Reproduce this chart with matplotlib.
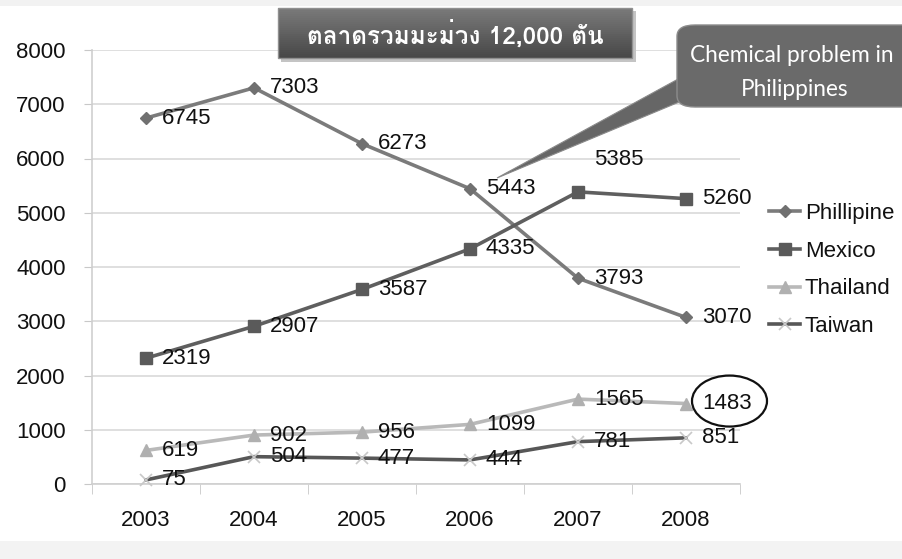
import matplotlib
matplotlib.use("Agg")
import matplotlib.pyplot as plt
from matplotlib import font_manager as fm
from matplotlib.patches import FancyBboxPatch, Polygon, Ellipse, Rectangle
from matplotlib.transforms import ScaledTranslation

years = ["2003", "2004", "2005", "2006", "2007", "2008"]
phillipine = [6745, 7303, 6273, 5443, 3793, 3070]
mexico = [2319, 2907, 3587, 4335, 5385, 5260]
thailand = [619, 902, 956, 1099, 1565, 1483]
taiwan = [75, 504, 477, 444, 781, 851]
series_names = ["Phillipine", "Mexico", "Thailand", "Taiwan"]
title_text = "ตลาดรวมมะม่วง 12,000 ตัน"
callout_text = ["Chemical problem in", "Philippines"]
yticks = [0, 1000, 2000, 3000, 4000, 5000, 6000, 7000, 8000]

# find a font with Thai glyphs
thai_family = None
try:
    from fontTools.ttLib import TTFont
    for f in fm.fontManager.ttflist:
        if "CJK" in f.fname:
            continue
        try:
            tt = TTFont(f.fname, fontNumber=0, lazy=True)
            cmap = tt.getBestCmap()
            if cmap and 0x0E15 in cmap:
                thai_family = f.name
                break
        except Exception:
            pass
except Exception:
    pass

base = ["Liberation Sans", "DejaVu Sans"]
plt.rcParams["font.family"] = base
FS = 16

W, H = 902, 559
fig = plt.figure(figsize=(W / 100, H / 100), dpi=100)
fig.patch.set_facecolor("white")

fig.patches.append(Rectangle((0, 1 - 6 / H), 1, 6 / H, transform=fig.transFigure,
                             facecolor="#f2f2f2", edgecolor="none", zorder=0))

ax = fig.add_axes([92 / W, 1 - 484 / H, (740 - 92) / W, (484 - 50) / H])
ax.set_facecolor("white")
x = list(range(len(years)))

styles = [
    (phillipine, dict(color="#7b7b7b", marker="D", markersize=6.5, mfc="#707070", mec="#707070", lw=2.6)),
    (mexico, dict(color="#5f5f5f", marker="s", markersize=9, mfc="#5a5a5a", mec="#5a5a5a", lw=2.6)),
    (thailand, dict(color="#b9b9b9", marker="^", markersize=9, mfc="#b0b0b0", mec="#b0b0b0", lw=2.6)),
    (taiwan, dict(color="#575757", marker="x", markersize=8, mfc="#c8c8c8", mec="#c8c8c8", mew=1.2, lw=2.6)),
]
handles = []
for (vals, st), name in zip(styles, series_names):
    ln, = ax.plot(x, vals, label=name, zorder=3, clip_on=False, **st)
    handles.append(ln)

ax.set_xlim(-0.5, len(years) - 0.5)
ax.set_ylim(0, 8000)
ax.set_yticks(yticks)
ax.set_yticklabels([str(v) for v in yticks], fontsize=FS)
ax.set_xticks(x)
ax.set_xticklabels(years, fontsize=FS)
ax.set_xticks([i - 0.5 for i in range(len(years) + 1)], minor=True)
ax.tick_params(axis="x", which="major", length=0, pad=19, labelcolor="#111111")
ax.tick_params(axis="x", which="minor", length=7, color="#c8c8c8", direction="out")
ax.tick_params(axis="y", length=6, color="#c8c8c8", pad=13, labelcolor="#111111")
ax.grid(axis="y", color="#d9d9d9", lw=1.2, zorder=0)
ax.set_axisbelow(True)
for s in ["top", "right"]:
    ax.spines[s].set_visible(False)
for s in ["left", "bottom"]:
    ax.spines[s].set_color("#cfcfcf")
    ax.spines[s].set_linewidth(1.2)

# data labels
for vals, _ in styles:
    for i, v in enumerate(vals):
        dy = 0
        if vals is mexico and i == 4:
            dy = 32
        ax.annotate(str(v), (i, v), xytext=(16, dy), textcoords="offset pixels",
                    ha="left", va="center", fontsize=FS, color="#111111", zorder=5,
                    annotation_clip=False)

# circle around 1483
tr = fig.dpi_scale_trans + ScaledTranslation(5, thailand[5], ax.transData)
ax.add_artist(Ellipse((0.435, 0.025), 0.75, 0.51, transform=tr, facecolor="none",
                      edgecolor="#111111", lw=1.6, zorder=6, clip_on=False))

# legend
leg = ax.legend(handles=handles, loc="center left", bbox_to_anchor=(758 / W, 1 - 270 / H),
                bbox_transform=fig.transFigure, frameon=False, fontsize=FS,
                handlelength=1.4, handletextpad=0.2, labelspacing=0.75, borderpad=0)
for t in leg.get_texts():
    t.set_color("#111111")

# title box with vertical gradient
def px_rect(x0, y0, x1, y1, **kw):
    return Rectangle((x0 / W, 1 - y1 / H), (x1 - x0) / W, (y1 - y0) / H,
                     transform=fig.transFigure, **kw)

fig.patches.append(px_rect(281, 11, 636, 62, facecolor="#c4c4c4", edgecolor="none", zorder=8))
n = 25
top_c, bot_c = 0x7a, 0x48
for k in range(n):
    y0 = 8 + 50 * k / n
    y1 = 8 + 50 * (k + 1) / n + 0.3
    c = int(top_c + (bot_c - top_c) * k / (n - 1))
    fig.patches.append(px_rect(278, y0, 632, y1, facecolor="#%02x%02x%02x" % (c, c, c),
                               edgecolor="none", zorder=9))
fig.patches.append(px_rect(278, 8, 632, 58, facecolor="none", edgecolor="#909090", lw=1.0, zorder=9.5))
tfam = [thai_family] + base if thai_family else base
fig.text(455 / W, 1 - 34 / H, title_text, ha="center", va="center", color="white",
         fontsize=17.5, fontweight="bold", family=tfam, zorder=10)

# callout with tail
tail = Polygon([(497 / W, 1 - 178 / H), (680 / W, 1 - 78 / H), (684 / W, 1 - 100 / H)],
               closed=True, transform=fig.transFigure, facecolor="#666666",
               edgecolor="#8a8a8a", lw=0.8, zorder=8)
fig.patches.append(tail)
cb = FancyBboxPatch((677 / W, 1 - 107 / H), 260 / W, 82 / H,
                    boxstyle="round,pad=0,rounding_size=0.02", transform=fig.transFigure,
                    facecolor="#6a6a6a", edgecolor="#8c8c8c", lw=1.0, zorder=9)
fig.patches.append(cb)
cfam = ["Lato", "DejaVu Sans"]
fig.text(690 / W, 1 - 56 / H, callout_text[0], ha="left", va="center", color="white",
         fontsize=16.3, family=cfam, zorder=10)
fig.text(795 / W, 1 - 89 / H, callout_text[1], ha="center", va="center", color="white",
         fontsize=16.3, family=cfam, zorder=10)

fig.patches.append(Rectangle((0, 0), 1, 18 / H, transform=fig.transFigure,
                             facecolor="#f3f3f3", edgecolor="none", zorder=0))

fig.savefig("out.png", dpi=100)
